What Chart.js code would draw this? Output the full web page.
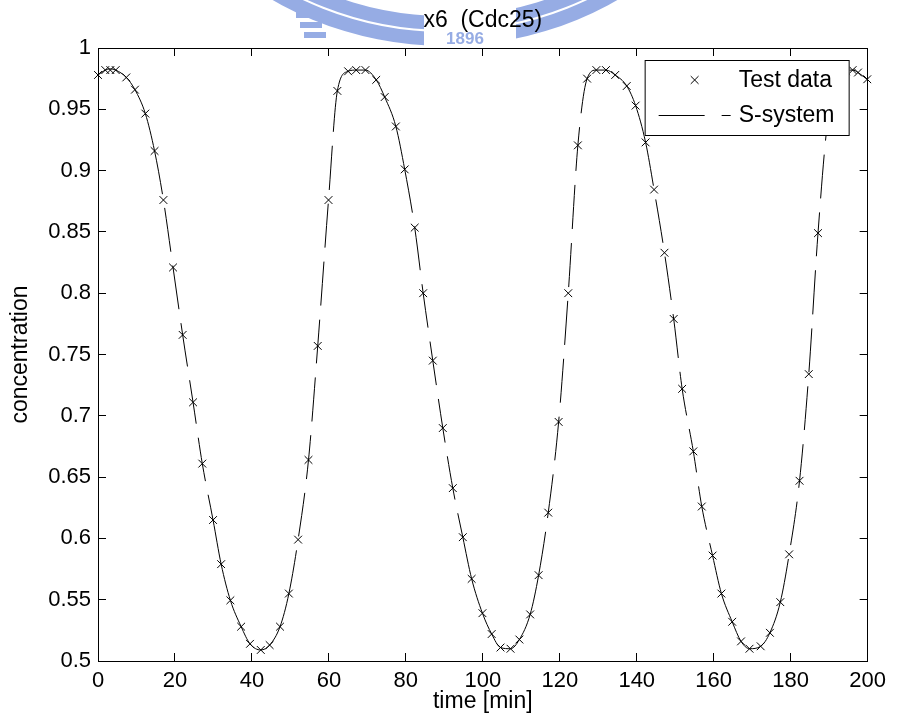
<!DOCTYPE html>
<html>
<head>
<meta charset="utf-8">
<script src="https://cdn.jsdelivr.net/npm/chart.js@4.4.1/dist/chart.umd.min.js"></script>
<style>
  html, body { margin: 0; padding: 0; background: #fff; }
  #wrap { width: 901px; height: 725px; }
</style>
</head>
<body>
<div id="wrap"><canvas id="c" width="901" height="725"></canvas></div>
<script>
// ---- data ----
const testTime = [0, 1.9, 3.2, 4.6, 7.35, 9.6, 12.3, 14.7, 17.0, 19.5, 22.0, 24.7, 27.1, 29.9, 32.0, 34.4, 37.2, 39.5, 42.3, 44.6, 47.3, 49.6, 52.0, 54.7, 57.1, 59.9,
  62.2, 65.0, 67.1, 69.5, 72.3, 74.5, 77.4, 79.7, 82.3, 84.5, 87.0, 89.6, 92.2, 94.8, 97.1, 99.9, 102.3, 104.6, 107.2, 109.5, 112.3, 114.5, 117.0, 119.7, 122.2,
  124.7, 127.1, 129.5, 132.0, 134.4, 137.4, 139.7, 142.3, 144.5, 147.2, 149.6, 151.8, 154.7, 156.9, 159.7, 162.0, 164.8, 167.1, 169.3, 172.2, 174.6, 177.3,
  179.6, 182.3, 184.7, 187.1, 189.6, 192.2, 194.4, 196.1, 197.5, 199.9];
const testValue = [0.978, 0.982, 0.982, 0.982, 0.976, 0.966, 0.9465, 0.916, 0.876, 0.821, 0.766, 0.711, 0.661, 0.615, 0.579, 0.5495, 0.528, 0.514, 0.509, 0.513, 0.528, 0.555, 0.599, 0.664, 0.757, 0.876,
  0.965, 0.981, 0.982, 0.982, 0.974, 0.960, 0.936, 0.901, 0.8535, 0.800, 0.745, 0.690, 0.641, 0.601, 0.567, 0.539, 0.522, 0.511, 0.510, 0.5175, 0.538, 0.570, 0.621, 0.695, 0.800,
  0.9206, 0.975, 0.982, 0.982, 0.978, 0.969, 0.953, 0.923, 0.8845, 0.833, 0.779, 0.722, 0.671, 0.626, 0.586, 0.555, 0.532, 0.516, 0.510, 0.512, 0.523, 0.548,
  0.587, 0.647, 0.734, 0.849, 0.940, 0.974, 0.981, 0.982, 0.980, 0.9745];

const sTime = [0, 1.9, 3.2, 4.6, 7.35, 9.6, 12.3, 14.7, 17.0, 19.5, 22.0, 24.7, 27.1, 29.9, 32.0, 34.4, 37.2, 39.5, 42.3, 44.6, 47.3, 49.6, 52.0, 54.7, 57.1, 59.9,
  62.2, 65.0, 67.1, 69.5, 72.3, 74.5, 77.4, 79.7, 82.3, 84.5, 87.0, 89.6, 92.2, 94.8, 97.1, 99.9, 102.3, 104.6, 107.2, 109.5, 112.3, 114.5, 117.0, 119.7, 122.2,
  124.7, 127.1, 129.5, 132.0, 134.4, 137.4, 139.7, 142.3, 144.5, 147.2, 149.6, 151.8, 154.7, 156.9, 159.7, 162.0, 164.8, 167.1, 169.3, 172.2, 174.6, 177.3,
  179.6, 182.3, 184.7, 187.1, 189.6, 192.2, 194.4, 196.1, 197.5, 200];
const sValue = [0.978, 0.982, 0.983, 0.982, 0.976, 0.966, 0.9465, 0.916, 0.876, 0.821, 0.766, 0.711, 0.661, 0.615, 0.579, 0.5495, 0.528, 0.514, 0.509, 0.513, 0.528, 0.555, 0.599, 0.664, 0.757, 0.876,
  0.965, 0.981, 0.982, 0.982, 0.974, 0.960, 0.936, 0.901, 0.8535, 0.800, 0.745, 0.690, 0.641, 0.601, 0.567, 0.539, 0.522, 0.511, 0.510, 0.5175, 0.538, 0.570, 0.621, 0.695, 0.800,
  0.9206, 0.975, 0.982, 0.982, 0.978, 0.969, 0.953, 0.923, 0.8845, 0.833, 0.779, 0.722, 0.671, 0.626, 0.586, 0.555, 0.532, 0.516, 0.510, 0.512, 0.523, 0.548,
  0.587, 0.647, 0.734, 0.849, 0.940, 0.974, 0.981, 0.982, 0.980, 0.974];

const xTicks = [0, 20, 40, 60, 80, 100, 120, 140, 160, 180, 200];
const yTicks = [0.5, 0.55, 0.6, 0.65, 0.7, 0.75, 0.8, 0.85, 0.9, 0.95, 1];
const yTickLabels = ['0.5', '0.55', '0.6', '0.65', '0.7', '0.75', '0.8', '0.85', '0.9', '0.95', '1'];
const seriesNames = ['Test data', 'S-system'];
const chartTitle = 'x6  (Cdc25)';
const xTitle = 'time [min]';
const yTitle = 'concentration';
const watermarkText = '1896';

// ---- styling ----
const FONT = "'Liberation Sans', Arial, Helvetica, sans-serif";
const TICK_LEN = -8; // inward ticks
const WM_BLUE = 'rgb(150,172,228)';

const pts = (xs, ys) => xs.map((x, i) => ({ x: x, y: ys[i] }));

function setTicks(list) {
  return (scale) => { scale.ticks = list.map(v => ({ value: v })); };
}

const boxAxis = (pos, min, max, list, size) => ({
  type: 'linear', position: pos, min: min, max: max,
  afterBuildTicks: setTicks(list),
  ticks: { display: false },
  grid: { drawOnChartArea: false, drawTicks: true, tickLength: TICK_LEN, color: '#000', lineWidth: 1 },
  border: { display: true, color: '#000', width: 1 },
  afterFit: (s) => { if (s.isHorizontal()) s.height = size; else s.width = size; }
});

// faint emblem watermark behind the title (part of the scanned page)
const watermarkPlugin = {
  id: 'watermark',
  beforeDraw(chart) {
    const ctx = chart.ctx;
    const cx = 445, cy = -300;
    ctx.save();
    ctx.beginPath();
    ctx.rect(0, 0, chart.width, chart.chartArea.top - 1);
    ctx.clip();
    ctx.fillStyle = WM_BLUE;
    ctx.beginPath();
    ctx.arc(cx, cy, 346, 0, Math.PI * 2);
    ctx.arc(cx, cy, 316, 0, Math.PI * 2, true);
    ctx.fill('evenodd');
    // comb on the left
    for (let k = 0; k < 4; k++) {
      ctx.fillRect(292 + k * 4, 2 + k * 10, 22, 6);
    }
    ctx.strokeStyle = '#fff';
    ctx.lineWidth = 2;
    ctx.beginPath();
    ctx.arc(cx, cy, 331, 0, Math.PI * 2);
    ctx.stroke();
    // opening under the title where the year is written
    ctx.fillStyle = '#fff';
    ctx.fillRect(424, 0, 92, 48);
    ctx.fillStyle = WM_BLUE;
    ctx.font = 'bold 17px ' + FONT;
    ctx.textAlign = 'center';
    ctx.textBaseline = 'middle';
    ctx.fillText(watermarkText, 465, 39);
    ctx.restore();
  }
};

const legendPlugin = {
  id: 'boxLegend',
  afterDatasetsDraw(chart) {
    const ca = chart.chartArea;
    const ctx = chart.ctx;
    const L = ca.right - 223, T = ca.top + 12, W = 205, H = 76;
    ctx.save();
    ctx.fillStyle = '#fff';
    ctx.fillRect(L, T, W, H);
    ctx.strokeStyle = '#000';
    ctx.lineWidth = 1;
    ctx.strokeRect(L + 0.5, T + 0.5, W - 1, H - 1);
    // marker entry
    const y1 = T + 20, y2 = T + 55;
    const mx = L + 50, r = 3.9;
    ctx.beginPath();
    ctx.moveTo(mx - r, y1 - r); ctx.lineTo(mx + r, y1 + r);
    ctx.moveTo(mx + r, y1 - r); ctx.lineTo(mx - r, y1 + r);
    ctx.stroke();
    // line entry
    ctx.setLineDash([46, 17]);
    ctx.beginPath();
    ctx.moveTo(L + 14, y2 + 0.5); ctx.lineTo(L + 86, y2 + 0.5);
    ctx.stroke();
    ctx.setLineDash([]);
    ctx.fillStyle = '#000';
    ctx.font = '23px ' + FONT;
    ctx.textBaseline = 'middle';
    ctx.textAlign = 'left';
    ctx.fillText(seriesNames[0], L + 94, y1 + 1);
    ctx.fillText(seriesNames[1], L + 94, y2 + 1);
    ctx.restore();
  }
};

new Chart(document.getElementById('c'), {
  type: 'scatter',
  data: {
    datasets: [
      {
        label: seriesNames[0],
        data: pts(testTime, testValue),
        showLine: false,
        pointStyle: 'crossRot',
        pointRadius: 5.5,
        pointBorderWidth: 1,
        borderColor: '#000',
        backgroundColor: '#000',
        clip: false
      },
      {
        label: seriesNames[1],
        data: pts(sTime, sValue),
        showLine: true,
        pointRadius: 0,
        borderWidth: 1,
        borderColor: '#000',
        cubicInterpolationMode: 'monotone',
        segment: {
          borderDash: (c) => {
            const dx = c.p1.x - c.p0.x, dy = c.p1.y - c.p0.y;
            return Math.sqrt(dx * dx + dy * dy) > 45 ? [44, 14] : [];
          }
        }
      }
    ]
  },
  options: {
    responsive: false,
    animation: false,
    devicePixelRatio: 1,
    layout: { padding: { left: 0, right: 24, top: 0, bottom: 0 } },
    plugins: {
      legend: { display: false },
      tooltip: { enabled: false },
      title: {
        display: true,
        text: chartTitle,
        fullSize: false,
        color: '#000',
        font: { family: FONT, size: 23, weight: 'normal' },
        padding: { top: 7, bottom: 13.4 }
      }
    },
    scales: {
      x: {
        type: 'linear', position: 'bottom', min: 0, max: 200,
        afterBuildTicks: setTicks(xTicks),
        ticks: { color: '#000', font: { family: FONT, size: 22 }, padding: 15, maxRotation: 0, autoSkip: false },
        grid: { drawOnChartArea: false, drawTicks: true, tickLength: TICK_LEN, color: '#000', lineWidth: 1 },
        border: { display: true, color: '#000', width: 1 },
        title: { display: true, text: xTitle, color: '#000', font: { family: FONT, size: 23 }, padding: { top: 0, bottom: 10 } },
        afterFit: (s) => { s.height = 64; }
      },
      y: {
        type: 'linear', position: 'left', min: 0.5, max: 1,
        afterBuildTicks: setTicks(yTicks),
        ticks: {
          color: '#000', font: { family: FONT, size: 22 }, padding: 15, autoSkip: false,
          callback: (v) => yTickLabels[yTicks.findIndex(t => Math.abs(t - v) < 1e-9)]
        },
        grid: { drawOnChartArea: false, drawTicks: true, tickLength: TICK_LEN, color: '#000', lineWidth: 1 },
        border: { display: true, color: '#000', width: 1 },
        title: { display: true, text: yTitle, color: '#000', font: { family: FONT, size: 23 }, padding: { top: 7, bottom: 0 } },
        afterFit: (s) => { s.width = 98; }
      },
      x2: boxAxis('top', 0, 200, xTicks, 0),
      y2: boxAxis('right', 0.5, 1, yTicks, 0)
    }
  },
  plugins: [watermarkPlugin, legendPlugin]
});
</script>
</body>
</html>
